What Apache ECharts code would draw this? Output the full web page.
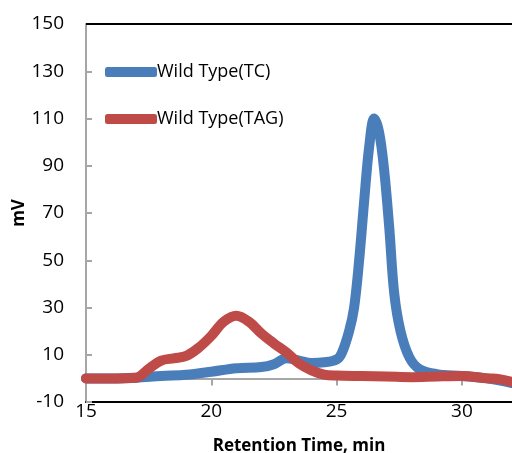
<!DOCTYPE html>
<html>
<head>
<meta charset="utf-8">
<script src="https://cdn.jsdelivr.net/npm/echarts@6/dist/echarts.min.js"></script>
<style>html,body{margin:0;padding:0;background:#fff}#c{width:512px;height:453px}</style>
</head>
<body>
<div id="c"></div>
<script>
const seriesNames = ['Wild Type(TC)', 'Wild Type(TAG)'];
const tcX = [15, 16, 17, 18, 19, 20, 21, 22, 22.5, 23, 23.5, 24, 24.5, 25, 25.2, 25.5, 25.7, 25.9, 26.1, 26.3, 26.5, 26.7, 26.9, 27.1, 27.3, 27.55, 27.9, 28.3, 29, 30, 31, 32];
const tcY = [0, 0, 0.3, 1, 1.5, 2.8, 4.3, 4.8, 6, 8.5, 7.5, 6.5, 6.8, 8, 10.5, 20, 30, 50, 75, 98, 110, 104, 88, 64, 36, 20, 9, 4, 1.8, 1, 0, -2];
const tagX = [15, 16, 17, 17.5, 18, 18.5, 19, 19.5, 20, 20.5, 21, 21.5, 22, 22.5, 23, 23.5, 24, 24.5, 25, 26, 27, 28, 29, 30, 31, 31.5, 32];
const tagY = [0, 0, 0.3, 4, 7.5, 8.5, 9.5, 13, 18, 24, 26.5, 24, 19, 14.8, 11, 6.3, 3.4, 1.6, 1.2, 1, 0.8, 0.5, 0.8, 1, 0, -0.3, -1.5];
const xTicks = { min: 15, max: 32, interval: 5 };
const yTicks = { min: -10, max: 150, interval: 20 };

const font = '"Open Sans", "DejaVu Sans", sans-serif';
const zip = (xs, ys) => xs.map((x, i) => [x, ys[i]]);

const chart = echarts.init(document.getElementById('c'), null, { renderer: 'canvas' });
chart.setOption({
  animation: false,
  textStyle: { fontFamily: font },
  grid: { left: 86, right: 0, top: 24, bottom: 51, containLabel: false, outerBoundsMode: 'none' },
  legend: {
    orient: 'vertical',
    left: 100,
    top: 58,
    itemWidth: 52,
    itemHeight: 10,
    itemGap: 29,
    icon: 'roundRect',
    textStyle: { fontSize: 18, color: '#000', fontFamily: font, padding: [0, 0, 0, -5] },
    data: seriesNames
  },
  xAxis: [
    {
      type: 'value', position: 'bottom', min: xTicks.min, max: xTicks.max, interval: xTicks.interval,
      axisLine: { onZero: false, lineStyle: { color: '#000', width: 2 } },
      axisTick: { show: false },
      splitLine: { show: false },
      axisLabel: { fontSize: 19, color: '#000', margin: 0, showMaxLabel: false, fontFamily: font },
      name: 'Retention Time, min', nameLocation: 'middle', nameGap: 36,
      nameTextStyle: { fontSize: 17, fontWeight: 'bold', color: '#000', fontFamily: font }
    },
    {
      type: 'value', position: 'top', min: xTicks.min, max: xTicks.max, interval: xTicks.interval,
      axisLine: { onZero: true, lineStyle: { color: '#a6a6a6', width: 2 } },
      axisTick: { show: true, inside: true, length: 7, lineStyle: { color: '#a6a6a6', width: 2 } },
      splitLine: { show: false },
      axisLabel: { show: false }
    }
  ],
  yAxis: {
    type: 'value', min: yTicks.min, max: yTicks.max, interval: yTicks.interval,
    axisLine: { show: true, onZero: false, lineStyle: { color: '#a6a6a6', width: 2 } },
    axisTick: { show: true, inside: true, length: 6, lineStyle: { color: '#a6a6a6', width: 2 } },
    splitLine: { show: false },
    axisLabel: { fontSize: 19, color: '#000', margin: 22, fontFamily: font },
    name: 'mV', nameLocation: 'middle', nameGap: 58, nameRotate: 90, nameMoveOverlap: false,
    nameTextStyle: { fontSize: 17, fontWeight: 'bold', color: '#000', fontFamily: font }
  },
  series: [
    {
      name: seriesNames[0], type: 'line', xAxisIndex: 0, smooth: 0.35, showSymbol: false,
      data: zip(tcX, tcY),
      itemStyle: { color: '#4a7ebb' },
      lineStyle: { color: '#4a7ebb', width: 10, cap: 'round', join: 'round' },
      markLine: {
        silent: true, symbol: 'none', label: { show: false },
        lineStyle: { color: '#000', width: 2, type: 'solid' },
        data: [{ yAxis: 150 }]
      }
    },
    {
      name: seriesNames[1], type: 'line', xAxisIndex: 0, smooth: 0.35, showSymbol: false,
      data: zip(tagX, tagY),
      itemStyle: { color: '#be4b48' },
      lineStyle: { color: '#be4b48', width: 10, cap: 'round', join: 'round' }
    }
  ]
});
</script>
</body>
</html>
